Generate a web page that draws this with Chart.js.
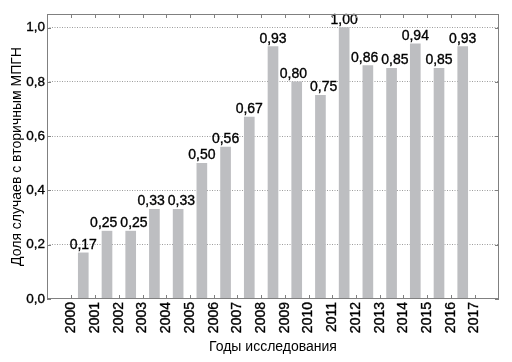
<!DOCTYPE html>
<html>
<head>
<meta charset="utf-8">
<script src="https://cdn.jsdelivr.net/npm/chart.js@4"></script>
<style>
  body { margin: 0; background: #fff; }
</style>
</head>
<body>
<canvas id="chart" width="512" height="362"></canvas>
<script>
// tick labels on the x axis
const years = [2000, 2001, 2002, 2003, 2004, 2005, 2006, 2007, 2008,
               2009, 2010, 2011, 2012, 2013, 2014, 2015, 2016, 2017];
// share of cases, one bar between each pair of year ticks
const shares = [0.17, 0.25, 0.25, 0.33, 0.33, 0.50, 0.56, 0.67, 0.93,
                0.80, 0.75, 1.00, 0.86, 0.85, 0.94, 0.85, 0.93];
const yTicks = [0, 0.2, 0.4, 0.6, 0.8, 1.0];

const FONT = '"Liberation Sans", Arial, sans-serif';
const INK = '#000';
const comma = (v, d) => v.toFixed(d).replace('.', ',');

// box round the plot with short inward tick marks on all four sides
const frame = {
  id: 'frame',
  afterDraw(chart) {
    const { ctx, chartArea: a, scales: { x, y } } = chart;
    ctx.save();
    ctx.strokeStyle = '#808080';
    ctx.lineWidth = 1;
    ctx.strokeRect(a.left + 0.5, a.top + 0.5, a.width - 1, a.height - 1);
    ctx.beginPath();
    x.ticks.forEach(t => {
      const px = Math.round(x.getPixelForValue(t.value)) + 0.5;
      ctx.moveTo(px, a.bottom); ctx.lineTo(px, a.bottom - 4);
      ctx.moveTo(px, a.top); ctx.lineTo(px, a.top + 4);
    });
    y.ticks.forEach(t => {
      const py = Math.round(y.getPixelForValue(t.value)) + 0.5;
      ctx.moveTo(a.left, py); ctx.lineTo(a.left + 4, py);
      ctx.moveTo(a.right, py); ctx.lineTo(a.right - 4, py);
    });
    ctx.stroke();
    ctx.restore();
  }
};

// value above each bar; neighbours that would touch are pushed apart a little
const barLabels = {
  id: 'barLabels',
  afterDatasetsDraw(chart) {
    const ctx = chart.ctx;
    ctx.save();
    ctx.font = '14px ' + FONT;
    ctx.fillStyle = INK;
    ctx.strokeStyle = INK;
    ctx.lineWidth = 0.35;
    ctx.textAlign = 'center';
    ctx.textBaseline = 'alphabetic';
    const bars = chart.getDatasetMeta(0).data;
    const texts = shares.map(v => comma(v, 2));
    const xs = bars.map(b => b.x);
    const w = texts.map(t => ctx.measureText(t).width);
    for (let i = 0; i < xs.length - 1; i++) {
      const near = Math.abs(bars[i].y - bars[i + 1].y) < 16;
      const gap = (xs[i + 1] - w[i + 1] / 2) - (xs[i] + w[i] / 2);
      if (near && gap < 3) {
        xs[i] -= (3 - gap) / 2;
        xs[i + 1] += (3 - gap) / 2;
      }
    }
    bars.forEach((bar, i) => {
      ctx.fillText(texts[i], xs[i], bar.y - 4);
      ctx.strokeText(texts[i], xs[i], bar.y - 4);
    });
    ctx.restore();
  }
};

new Chart(document.getElementById('chart'), {
  type: 'bar',
  data: {
    datasets: [{
      data: shares.map((v, i) => ({ x: years[i] + 0.5, y: v })),
      backgroundColor: '#bdbec1',
      barThickness: 10
    }]
  },
  options: {
    responsive: false,
    animation: false,
    layout: { padding: { top: 14, right: 13, left: 0, bottom: 0 } },
    plugins: { legend: { display: false }, tooltip: { enabled: false } },
    scales: {
      x: {
        type: 'linear',
        min: years[0] - 0.5,
        max: years[years.length - 1] + 0.5,
        afterBuildTicks: s => { s.ticks = years.map(v => ({ value: v })); },
        afterFit: s => { s.height = 63; },
        grid: { display: false, drawTicks: false },
        border: { display: false },
        ticks: {
          autoSkip: false,
          minRotation: 90,
          maxRotation: 90,
          padding: 3,
          color: INK,
          textStrokeColor: INK,
          textStrokeWidth: 0.35,
          font: { family: FONT, size: 14 },
          callback: v => String(v)
        },
        title: {
          display: true,
          text: 'Годы исследования',
          color: INK,
          font: { family: FONT, size: 14 },
          padding: { top: 0, bottom: 6 }
        }
      },
      y: {
        min: 0,
        max: 1.05,
        afterBuildTicks: s => { s.ticks = yTicks.map(v => ({ value: v })); },
        afterFit: s => { s.width = 47; },
        grid: {
          drawTicks: false,
          color: c => c.tick && c.tick.value === 0 ? 'transparent' : '#9c9c9c',
          lineWidth: 1
        },
        border: { display: false, dash: [1, 1.5] },
        ticks: {
          padding: 2,
          color: INK,
          textStrokeColor: INK,
          textStrokeWidth: 0.35,
          font: { family: FONT, size: 13.5 },
          callback: v => comma(v, 1)
        },
        title: {
          display: true,
          text: 'Доля случаев с вторичным МПГН',
          color: INK,
          font: { family: FONT, size: 14 },
          padding: { top: 9, bottom: 0 }
        }
      }
    }
  },
  plugins: [frame, barLabels]
});
</script>
</body>
</html>
